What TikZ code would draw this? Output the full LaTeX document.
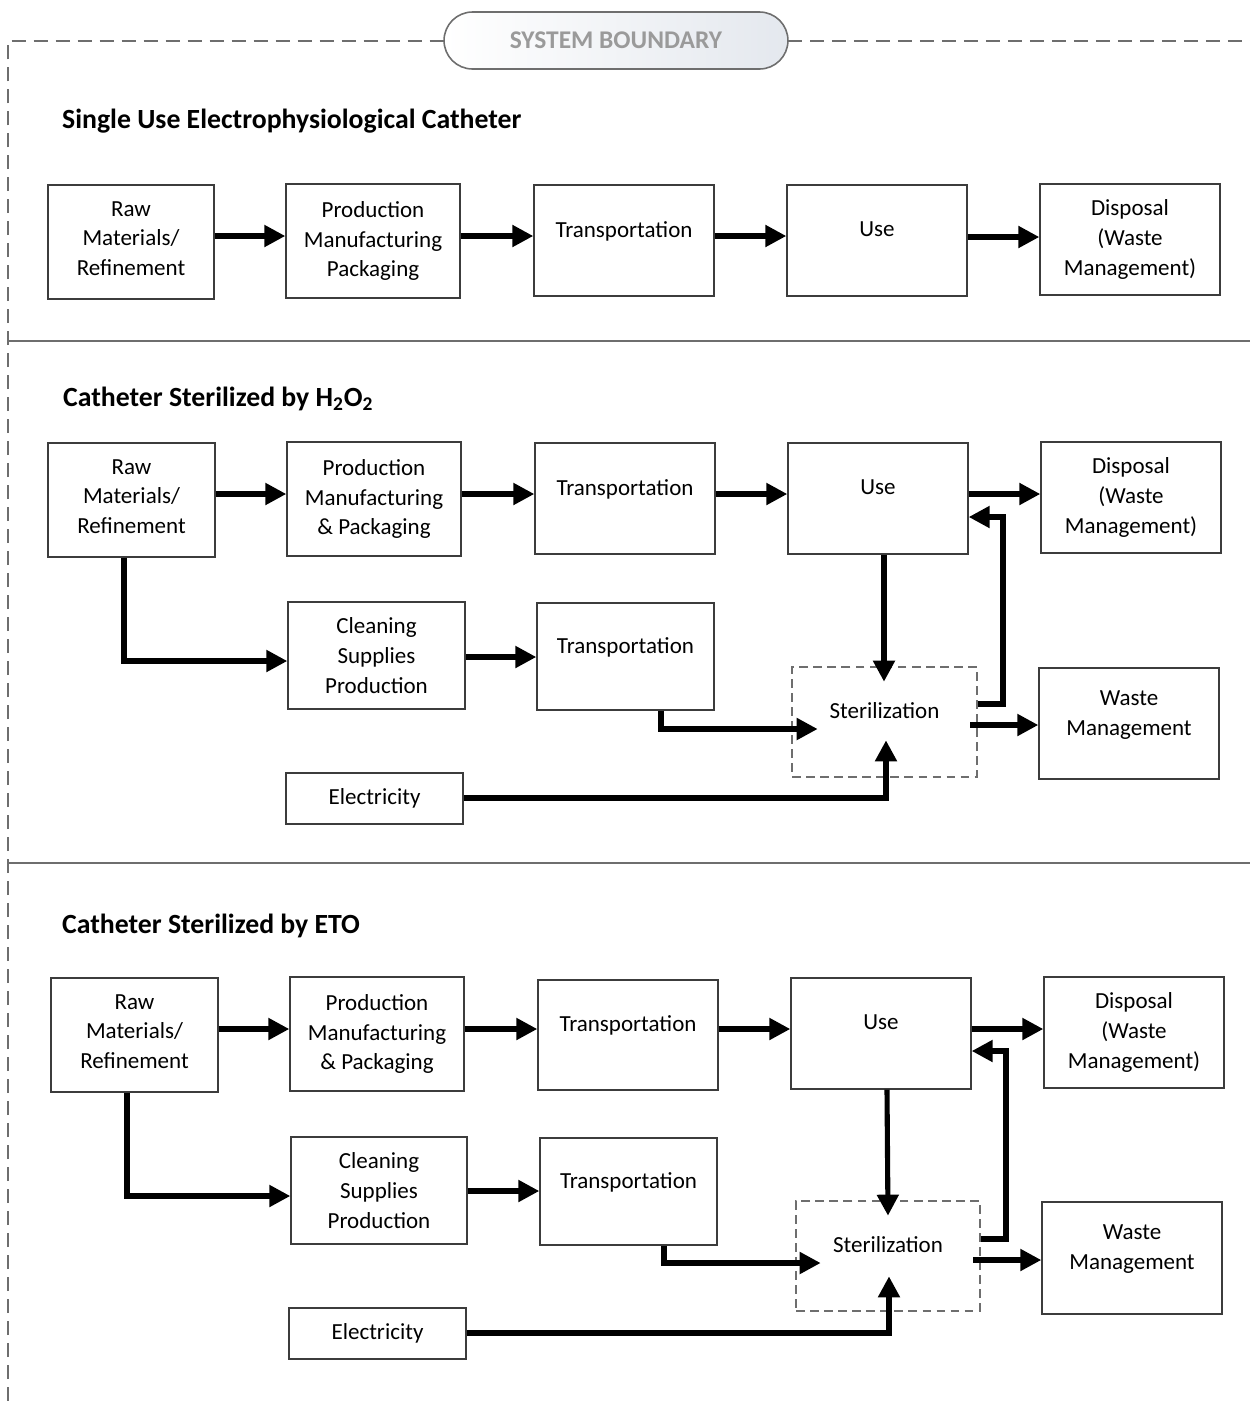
\documentclass[tikz,border=0pt]{standalone}
\usepackage{fontspec}
\setmainfont{Carlito}
\usetikzlibrary{arrows.meta}
\definecolor{bordergray}{HTML}{3C3C3C}
\definecolor{linegray}{HTML}{6E6E6E}
\definecolor{labelgray}{HTML}{9A9A9A}
\definecolor{pillshade}{HTML}{E4E8EE}
\begin{document}
\begin{tikzpicture}[x=0.02cm,y=-0.02cm,
  box/.style={draw=bordergray,line width=0.8pt,align=center,inner sep=2pt,
    font=\fontsize{13.1}{17}\selectfont},
  up/.style={text depth=0.45cm},
  up2/.style={text depth=0.42cm},
  up3/.style={text depth=0.14cm},
  stin/.style={draw=none,inner sep=0pt},
  sframe/.style={draw=linegray,line width=0.8pt,dash pattern=on 5pt off 3pt,
    align=center,inner sep=2pt,font=\fontsize{13.1}{17}\selectfont,text depth=0.47cm},
  arr/.style={line width=2.9pt,-{Triangle[length=0.42cm,width=0.42cm]}},
  title/.style={anchor=west,font=\fontsize{15.8}{19}\selectfont\bfseries},
  sep/.style={draw=linegray,line width=1pt},
  bound/.style={draw=linegray,line width=0.9pt,dash pattern=on 0.28cm off 0.16cm}
]
\useasboundingbox (0,0) rectangle (1250,1401);

% system boundary
\draw[bound] (8,1401) -- (8,41) -- (444,41);
\draw[bound] (788,41) -- (1250,41);
\node[draw=linegray,line width=0.9pt,rounded corners=0.57cm,left color=white,right color=pillshade,
  minimum width=6.88cm,minimum height=1.14cm,inner sep=0pt,
  font=\fontsize{14.5}{17}\selectfont\bfseries,text=labelgray] (sb) at (616,40.5) {SYSTEM BOUNDARY};
\draw[sep] (8,341) -- (1250,341);
\draw[sep] (8,863) -- (1250,863);

% ---------- Section 1
\node[title] (t1) at (56,121) {Single Use Electrophysiological Catheter};
\node[box,up3,minimum width=3.32cm,minimum height=2.28cm] (raw1) at (131,242) {Raw\\Materials/\\Refinement};
\node[box,minimum width=3.48cm,minimum height=2.28cm] (prod1) at (373,241) {Production\\Manufacturing\\Packaging};
\node[box,up,minimum width=3.6cm,minimum height=2.22cm] (tr1) at (624,240.5) {Transportation};
\node[box,up,minimum width=3.6cm,minimum height=2.22cm] (use1) at (877,240.5) {Use};
\node[box,minimum width=3.6cm,minimum height=2.22cm] (dis1) at (1130,239.5) {Disposal\\(Waste\\Management)};
\draw[arr] (raw1.east |- 0,236) -- (prod1.west |- 0,236);
\draw[arr] (prod1.east |- 0,236) -- (tr1.west |- 0,236);
\draw[arr] (tr1.east |- 0,236) -- (use1.west |- 0,236);
\draw[arr] (use1.east |- 0,237) -- (dis1.west |- 0,237);

% ---------- Section 2
\node[title] (t2) at (57,399) {Catheter Sterilized by H\textsubscript{2}O\textsubscript{2}};
\node[box,up3,minimum width=3.34cm,minimum height=2.28cm] (raw2) at (131.5,500) {Raw\\Materials/\\Refinement};
\node[box,minimum width=3.48cm,minimum height=2.28cm] (prod2) at (374,499) {Production\\Manufacturing\\\& Packaging};
\node[box,up,minimum width=3.6cm,minimum height=2.22cm] (tr2) at (625,498.5) {Transportation};
\node[box,up,minimum width=3.6cm,minimum height=2.22cm] (use2) at (878,498.5) {Use};
\node[box,minimum width=3.6cm,minimum height=2.22cm] (dis2) at (1131,497.5) {Disposal\\(Waste\\Management)};
\node[box,minimum width=3.54cm,minimum height=2.14cm] (cl2) at (376.5,655.5) {Cleaning\\Supplies\\Production};
\node[box,up,minimum width=3.54cm,minimum height=2.14cm] (tr2b) at (625.5,656.5) {Transportation};
\node[sframe,minimum width=3.7cm,minimum height=2.2cm] (st2f) at (884.5,722) {Sterilization};
\node[stin,minimum width=3.04cm,minimum height=1.16cm] (st2) at (894,711) {};
\node[box,up2,minimum width=3.6cm,minimum height=2.22cm] (wm2) at (1129,723.5) {Waste\\Management};
\node[box,minimum width=3.54cm,minimum height=1.02cm] (el2) at (374.5,798.5) {Electricity};
\draw[arr] (raw2.east |- 0,494) -- (prod2.west |- 0,494);
\draw[arr] (prod2.east |- 0,494) -- (tr2.west |- 0,494);
\draw[arr] (tr2.east |- 0,494) -- (use2.west |- 0,494);
\draw[arr] (use2.east |- 0,494) -- (dis2.west |- 0,494);
\draw[arr] (raw2.south -| 124,0) |- (cl2.west |- 0,661);
\draw[arr] (cl2.east |- 0,657) -- (tr2b.west |- 0,657);
\draw[arr] (tr2b.south -| 661,0) |- (st2.west |- 0,729);
\draw[arr] (use2.south -| 884,0) -- (st2.north -| 884,0);
\draw[arr] (el2.east |- 0,798) -| (st2.south -| 886,0);
\draw[arr] (st2.east |- 0,725) -- (wm2.west |- 0,725);
\draw[arr] (st2f.east |- 0,704) -- (1003,704) |- (use2.east |- 0,517);

% ---------- Section 3
\node[title] (t3) at (56,926) {Catheter Sterilized by ETO};
\node[box,up3,minimum width=3.34cm,minimum height=2.28cm] (raw3) at (134.5,1035) {Raw\\Materials/\\Refinement};
\node[box,minimum width=3.48cm,minimum height=2.28cm] (prod3) at (377,1034) {Production\\Manufacturing\\\& Packaging};
\node[box,up,minimum width=3.6cm,minimum height=2.2cm] (tr3) at (628,1035) {Transportation};
\node[box,up,minimum width=3.6cm,minimum height=2.22cm] (use3) at (881,1033.5) {Use};
\node[box,minimum width=3.6cm,minimum height=2.22cm] (dis3) at (1134,1032.5) {Disposal\\(Waste\\Management)};
\node[box,minimum width=3.52cm,minimum height=2.14cm] (cl3) at (379,1190.5) {Cleaning\\Supplies\\Production};
\node[box,up,minimum width=3.54cm,minimum height=2.14cm] (tr3b) at (628.5,1191.5) {Transportation};
\node[sframe,minimum width=3.68cm,minimum height=2.2cm] (st3f) at (888,1256) {Sterilization};
\node[stin,minimum width=3.04cm,minimum height=1.2cm] (st3) at (897,1246) {};
\node[box,up2,minimum width=3.6cm,minimum height=2.24cm] (wm3) at (1132,1258) {Waste\\Management};
\node[box,minimum width=3.54cm,minimum height=1.02cm] (el3) at (377.5,1333.5) {Electricity};
\draw[arr] (raw3.east |- 0,1029) -- (prod3.west |- 0,1029);
\draw[arr] (prod3.east |- 0,1029) -- (tr3.west |- 0,1029);
\draw[arr] (tr3.east |- 0,1029) -- (use3.west |- 0,1029);
\draw[arr] (use3.east |- 0,1029) -- (dis3.west |- 0,1029);
\draw[arr] (raw3.south -| 127,0) |- (cl3.west |- 0,1196);
\draw[arr] (cl3.east |- 0,1191) -- (tr3b.west |- 0,1191);
\draw[arr] (tr3b.south -| 664,0) |- (st3.west |- 0,1263);
\draw[arr] (use3.south -| 887,0) -- (st3.north -| 888,0);
\draw[arr] (el3.east |- 0,1333) -| (st3.south -| 889,0);
\draw[arr] (st3.east |- 0,1260) -- (wm3.west |- 0,1260);
\draw[arr] (st3f.east |- 0,1239) -- (1006,1239) |- (use3.east |- 0,1051);
\end{tikzpicture}
\end{document}
